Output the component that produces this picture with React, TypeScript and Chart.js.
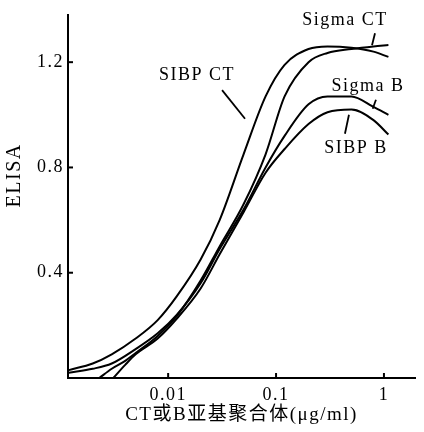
import React, { useEffect, useRef } from 'react';
import { Chart, registerables } from 'chart.js';

Chart.register(...registerables);

// ---- data ----
const sibpCtConc = [0.0012, 0.002, 0.003, 0.005, 0.008, 0.012, 0.02, 0.03, 0.05, 0.08, 0.12, 0.2, 0.3, 0.5, 0.8, 1.1];
const sibpCtElisa = [0.03, 0.055, 0.09, 0.15, 0.22, 0.31, 0.45, 0.6, 0.85, 1.07, 1.19, 1.25, 1.26, 1.255, 1.24, 1.22];

const sigmaCtConc = [0.0023, 0.003, 0.004, 0.005, 0.008, 0.012, 0.02, 0.03, 0.05, 0.08, 0.12, 0.2, 0.3, 0.5, 0.8, 1.1];
const sigmaCtElisa = [0, 0.035, 0.065, 0.095, 0.16, 0.235, 0.37, 0.5, 0.66, 0.85, 1.07, 1.2, 1.235, 1.25, 1.26, 1.265];

const sigmaBConc = [0.0012, 0.002, 0.003, 0.005, 0.008, 0.012, 0.02, 0.03, 0.05, 0.08, 0.12, 0.2, 0.3, 0.5, 0.8, 1.1];
const sigmaBElisa = [0.02, 0.035, 0.055, 0.11, 0.17, 0.24, 0.36, 0.49, 0.64, 0.8, 0.92, 1.04, 1.07, 1.07, 1.03, 1.0];

const sibpBConc = [0.0031, 0.004, 0.005, 0.008, 0.012, 0.02, 0.03, 0.05, 0.08, 0.12, 0.2, 0.3, 0.5, 0.8, 1.1];
const sibpBElisa = [0, 0.05, 0.09, 0.15, 0.225, 0.34, 0.47, 0.63, 0.78, 0.87, 0.965, 1.01, 1.02, 0.98, 0.925];

const xTickValues = [0.01, 0.1, 1];
const xTickLabels = ['0.01', '0.1', '1'];
const yTickValues = [0.4, 0.8, 1.2];
const yTickLabels = ['0.4', '0.8', '1.2'];

const xMin = 0.00118;
const xMax = 1.94;
const yMin = 0;
const yMax = 1.38;

const xTitle = 'CT或B亚基聚合体(μg/ml)';
const yTitle = 'ELISA';
const yTitleAt = 0.77; // vertical anchor of the y title, in ELISA units

// curve labels (data-space anchor of text, and pointer line ends)
const labelTexts = ['SIBP CT', 'Sigma CT', 'Sigma B', 'SIBP B'];
const labelX = [0.0185, 0.435, 0.711, 0.551];
const labelY = [1.15, 1.358, 1.109, 0.872];
const pointerX1 = [0.0316, 0.826, 0.843, 0.474];
const pointerY1 = [1.094, 1.31, 1.057, 1.0];
const pointerX2 = [0.0516, 0.775, 0.787, 0.435];
const pointerY2 = [0.985, 1.264, 1.023, 0.928];

const SERIF = "'Liberation Serif', 'DejaVu Serif', 'Noto Sans CJK SC', serif";
const SPACING = '1.5px';

const toPts = (xs: number[], ys: number[]) => xs.map((x, i) => ({ x, y: ys[i] }));

const spacingPlugin = {
  id: 'spacing',
  beforeLayout(chart: any) {
    (chart.ctx as any).letterSpacing = SPACING;
  },
  beforeDraw(chart: any) {
    (chart.ctx as any).letterSpacing = SPACING;
  },
};

const annotationPlugin = {
  id: 'annotations',
  afterDraw(chart: any) {
    const { ctx, scales } = chart;
    const xs = scales.x;
    const ys = scales.y;
    const area = chart.chartArea;
    ctx.save();
    (ctx as any).letterSpacing = SPACING;
    // inward tick marks
    ctx.strokeStyle = '#000';
    ctx.lineWidth = 2;
    xTickValues.forEach((v) => {
      const px = xs.getPixelForValue(v);
      ctx.beginPath();
      ctx.moveTo(px, area.bottom);
      ctx.lineTo(px, area.bottom - 5);
      ctx.stroke();
    });
    yTickValues.forEach((v) => {
      const py = ys.getPixelForValue(v);
      ctx.beginPath();
      ctx.moveTo(area.left, py);
      ctx.lineTo(area.left + 5, py);
      ctx.stroke();
    });
    // pointer lines
    ctx.lineWidth = 1.8;
    labelTexts.forEach((_, i) => {
      ctx.beginPath();
      ctx.moveTo(xs.getPixelForValue(pointerX1[i]), ys.getPixelForValue(pointerY1[i]));
      ctx.lineTo(xs.getPixelForValue(pointerX2[i]), ys.getPixelForValue(pointerY2[i]));
      ctx.stroke();
    });
    // label texts
    ctx.fillStyle = '#000';
    ctx.font = `18px ${SERIF}`;
    ctx.textAlign = 'center';
    ctx.textBaseline = 'middle';
    labelTexts.forEach((t, i) => {
      ctx.fillText(t, xs.getPixelForValue(labelX[i]), ys.getPixelForValue(labelY[i]));
    });
    // y title (rotated)
    ctx.save();
    ctx.translate(15, ys.getPixelForValue(yTitleAt));
    ctx.rotate(-Math.PI / 2);
    ctx.font = `20px ${SERIF}`;
    ctx.fillText(yTitle, 0, 0);
    ctx.restore();
    ctx.restore();
  },
};

export default function App() {
  const canvasRef = useRef<HTMLCanvasElement | null>(null);

  useEffect(() => {
    document.body.style.margin = '0';
    const canvas = canvasRef.current;
    if (!canvas) return;
    const lineStyle = {
      borderColor: '#000',
      borderWidth: 2,
      pointRadius: 0,
      fill: false,
      cubicInterpolationMode: 'monotone' as const,
    };
    const chart = new Chart(canvas, {
      type: 'line',
      data: {
        datasets: [
          { label: 'SIBP CT', data: toPts(sibpCtConc, sibpCtElisa), ...lineStyle },
          { label: 'Sigma CT', data: toPts(sigmaCtConc, sigmaCtElisa), ...lineStyle },
          { label: 'Sigma B', data: toPts(sigmaBConc, sigmaBElisa), ...lineStyle },
          { label: 'SIBP B', data: toPts(sibpBConc, sibpBElisa), ...lineStyle },
        ],
      },
      options: {
        responsive: false,
        animation: false,
        layout: { padding: { top: 12, right: 9, left: 0, bottom: 6 } },
        plugins: { legend: { display: false }, tooltip: { enabled: false } },
        scales: {
          x: {
            type: 'logarithmic',
            min: xMin,
            max: xMax,
            grid: { display: false, drawTicks: false },
            border: { display: true, color: '#000', width: 2 },
            afterBuildTicks: (scale: any) => {
              scale.ticks = xTickValues.map((v) => ({ value: v }));
            },
            afterFit: (scale: any) => {
              scale.height = 48;
            },
            ticks: {
              color: '#000',
              padding: 6,
              maxRotation: 0,
              autoSkip: false,
              font: { family: SERIF, size: 18 },
              callback: (value: any) => {
                const i = xTickValues.findIndex((v) => Math.abs(v - Number(value)) < v * 1e-6);
                return i >= 0 ? xTickLabels[i] : '';
              },
            },
            title: {
              display: true,
              text: xTitle,
              color: '#000',
              font: { family: SERIF, size: 19 },
              padding: 0,
            },
          },
          y: {
            type: 'linear',
            min: yMin,
            max: yMax,
            grid: { display: false, drawTicks: false },
            border: { display: true, color: '#000', width: 2 },
            afterBuildTicks: (scale: any) => {
              scale.ticks = yTickValues.map((v) => ({ value: v }));
            },
            afterFit: (scale: any) => {
              scale.width = 68;
            },
            ticks: {
              color: '#000',
              padding: 4,
              font: { family: SERIF, size: 18 },
              callback: (value: any) => {
                const i = yTickValues.findIndex((v) => Math.abs(v - Number(value)) < 1e-6);
                return i >= 0 ? yTickLabels[i] : '';
              },
            },
            title: { display: false },
          },
        },
      },
      plugins: [spacingPlugin, annotationPlugin],
    });
    return () => chart.destroy();
  }, []);

  return (
    <div style={{ position: 'absolute', left: 0, top: 0, width: 424, height: 432, background: '#fff' }}>
      <canvas ref={canvasRef} width={424} height={432} />
    </div>
  );
}
